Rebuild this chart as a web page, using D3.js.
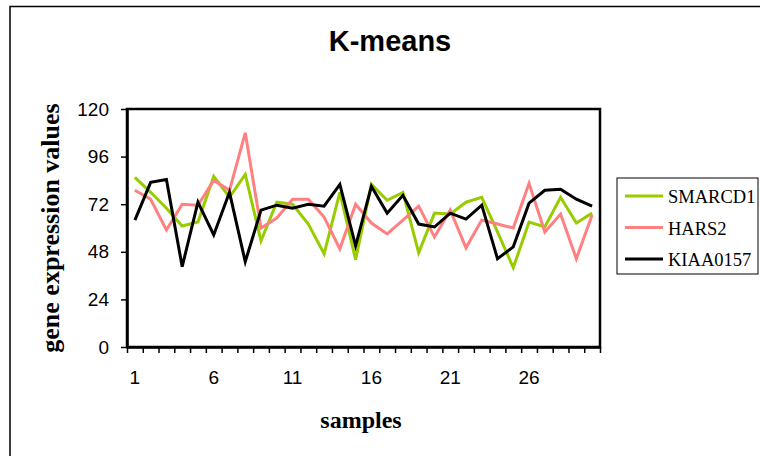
<!DOCTYPE html>
<html>
<head>
	<script src="https://cdn.jsdelivr.net/npm/d3@7/dist/d3.min.js"></script>
	<style>
		body { margin: 0; background: white; }
	</style>
</head>
<body>
	<script>
		// chart data
		var samples = d3.range(1, 31);
		var xTickLabels = [1, 6, 11, 16, 21, 26];
		var yTickValues = [0, 24, 48, 72, 96, 120];
		var seriesNames = ["SMARCD1", "HARS2", "KIAA0157"];
		var smarcd1 = [85.5, 78, 70, 61, 63, 86, 75.5, 87, 53.5, 73, 72, 62, 47, 78, 44,
			82, 74, 78, 47.5, 67.5, 67, 73, 75.5, 58, 40, 63, 60.5, 75.5, 62.5, 67.5];
		var hars2 = [79, 74.5, 59, 72, 71.5, 84, 79, 108, 60, 65, 74.5, 74.5, 65.5, 49.5, 72,
			62.5, 57, 64, 71, 55.5, 69, 50, 64, 62, 60, 82.5, 58, 67, 44.5, 66.5];
		var kiaa0157 = [64, 83, 84.5, 40.5, 73, 56.5, 78, 43, 69, 71.5, 70, 72, 71, 82, 51,
			81, 67.5, 76.5, 62, 60.5, 67.5, 64.5, 71.5, 44.5, 50.5, 72.5, 79, 79.5, 74.5, 71];
		var seriesColors = ["#99CC00", "#FF8080", "#000000"];

		var width = 760, height = 456;
		var plotLeft = 127, plotRight = 600, plotTop = 109, plotBottom = 347;

		var svg = d3.select("body").append("svg")
			.attr("width", width)
			.attr("height", height);

		// outer chart border (runs off the right and bottom edge)
		svg.append("rect")
			.attr("x", 10).attr("y", 6.5)
			.attr("width", 800).attr("height", 500)
			.attr("fill", "white")
			.attr("stroke", "black")
			.attr("stroke-width", 1.5);

		svg.append("text")
			.text("K-means")
			.attr("x", 390).attr("y", 51)
			.attr("text-anchor", "middle")
			.style("font-family", "'Liberation Sans', Arial, sans-serif")
			.style("font-weight", "bold")
			.style("font-size", "29px");

		var x = d3.scaleBand().domain(samples).range([plotLeft, plotRight]).padding(0);
		var xEdges = d3.scaleLinear().domain([0, samples.length]).range([plotLeft, plotRight]);
		var y = d3.scaleLinear().domain([0, 120]).range([plotBottom, plotTop]);

		// plot area frame
		svg.append("rect")
			.attr("x", plotLeft).attr("y", plotTop)
			.attr("width", plotRight - plotLeft).attr("height", plotBottom - plotTop)
			.attr("fill", "none")
			.attr("stroke", "black")
			.attr("stroke-width", 2.5);

		var yAxis = svg.append("g")
			.attr("transform", "translate(" + plotLeft + ",0)")
			.call(d3.axisLeft(y).tickValues(yTickValues).tickSize(6).tickSizeOuter(0).tickPadding(12));

		var xTicks = svg.append("g")
			.attr("transform", "translate(0," + plotBottom + ")")
			.call(d3.axisBottom(xEdges).tickValues(d3.range(samples.length + 1)).tickSize(6).tickSizeOuter(0).tickFormat(""));

		var xLabels = svg.append("g")
			.attr("transform", "translate(0," + plotBottom + ")")
			.call(d3.axisBottom(x).tickValues(xTickLabels).tickSize(0).tickPadding(24));

		[yAxis, xTicks, xLabels].forEach(function(g) {
			g.select(".domain").attr("stroke", "black").attr("stroke-width", 2.5);
			g.selectAll(".tick line").attr("stroke", "black").attr("stroke-width", 1.5);
			g.selectAll(".tick text")
				.attr("fill", "black")
				.attr("font-size", 19)
				.attr("font-family", "Liberation Sans, Arial, sans-serif")
				.style("font-size", "19px");
		});
		xLabels.select(".domain").remove();

		var line = d3.line()
			.x(function(d, i) { return x(samples[i]) + x.bandwidth() / 2; })
			.y(function(d) { return y(d); });

		[smarcd1, hars2, kiaa0157].forEach(function(values, k) {
			svg.append("path")
				.datum(values)
				.attr("d", line)
				.attr("fill", "none")
				.attr("stroke", seriesColors[k])
				.attr("stroke-width", 3)
				.attr("stroke-linejoin", "miter");
		});

		// axis titles
		svg.append("text")
			.text("samples")
			.attr("x", 361).attr("y", 428)
			.attr("text-anchor", "middle")
			.style("font-family", "'Liberation Serif', 'Times New Roman', serif")
			.style("font-weight", "bold")
			.style("font-size", "24px");

		svg.append("text")
			.text("gene expression values")
			.attr("transform", "translate(59," + (plotTop + plotBottom) / 2 + ") rotate(-90)")
			.attr("text-anchor", "middle")
			.style("font-family", "'Liberation Serif', 'Times New Roman', serif")
			.style("font-weight", "bold")
			.style("font-size", "26px");

		// legend
		var legend = svg.append("g");
		legend.append("rect")
			.attr("x", 617).attr("y", 178)
			.attr("width", 141).attr("height", 96)
			.attr("fill", "white")
			.attr("stroke", "black")
			.attr("stroke-width", 1);

		seriesNames.forEach(function(name, k) {
			var ly = 196 + k * 31.5;
			legend.append("line")
				.attr("x1", 625).attr("x2", 663)
				.attr("y1", ly).attr("y2", ly)
				.attr("stroke", seriesColors[k])
				.attr("stroke-width", 3);
			legend.append("text")
				.text(name)
				.attr("x", 668).attr("y", ly + 7)
				.style("font-family", "'Liberation Serif', 'Times New Roman', serif")
				.style("font-size", "18.5px");
		});
	</script>
</body>
</html>
